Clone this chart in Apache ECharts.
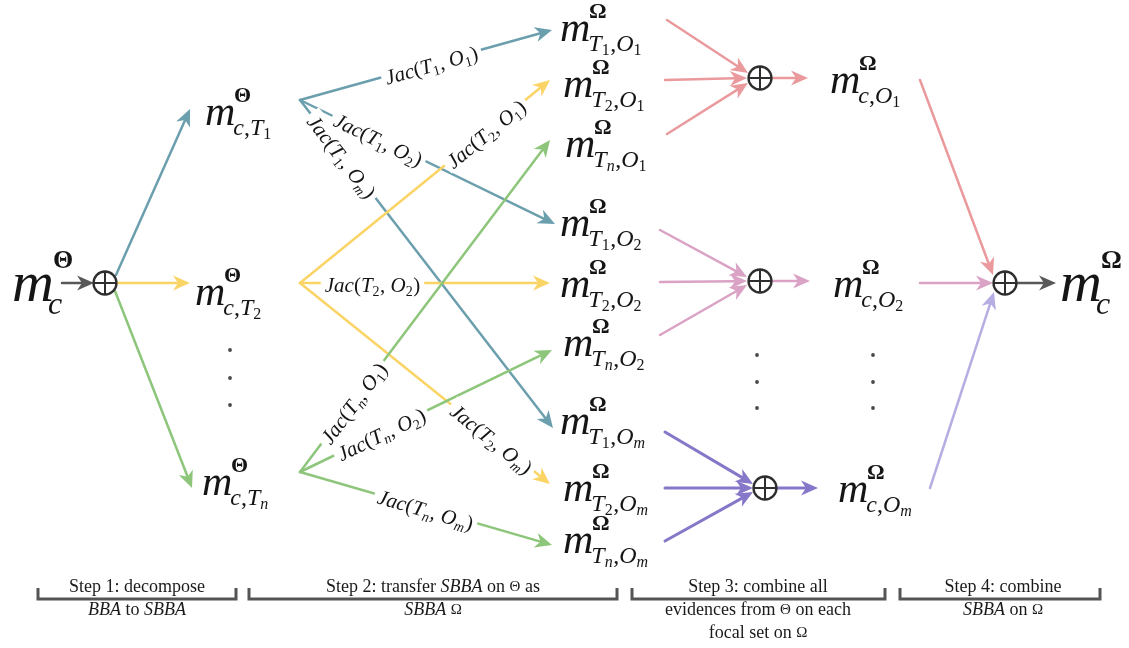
<!DOCTYPE html>
<html><head><meta charset="utf-8">
<script src="https://cdn.jsdelivr.net/npm/echarts@6/dist/echarts.min.js"></script>
<style>html,body{margin:0;padding:0;background:#fff}#c{width:1129px;height:648px}</style>
</head><body><div id="c"></div>
<script>
// ---------------- data ----------------
const groupColors = {dark:'#585858', blue:'#6b9fae', yellow:'#fbd466', green:'#8dc67b',
  pink:'#ea9a9d', mauve:'#daa2c4', purple:'#8677c9', lavender:'#b6ade3'};

// plain arrows: x1, y1, x2, y2, colour group
const plainEdges = [
  [62,283,94,283,'dark'],
  [116,275,190,109,'blue'],
  [117,283,190,283,'yellow'],
  [115,291,192,488,'green'],
  [667,20,748,73,'pink'],[665,80,747,78,'pink'],[667,134,748,83,'pink'],[772,78,808,78,'pink'],
  [660,230,747,277,'mauve'],[660,282,747,281,'mauve'],[660,335,747,285,'mauve'],[772,281,810,281,'mauve'],
  [665,432,753,484,'purple'],[665,488,753,488,'purple'],[665,541,753,492,'purple'],[777,488,818,488,'purple'],
  [920,80,993,275,'pink'],[920,283,993,283,'mauve'],[930,488,994,292,'lavender'],[1017,283,1056,283,'dark']
];

// transfer arrows with Jaccard labels
const jacEdges = [
  [300,100,552,30,'blue'],
  [300,100,555,224,'blue'],
  [300,100,553,428,'blue'],
  [300,283,550,80,'yellow'],
  [300,283,550,283,'yellow'],
  [300,283,550,484,'yellow'],
  [300,472,550,140,'green'],
  [300,472,552,350,'green'],
  [300,472,552,545,'green']
];
const jacLabels = ['Jac(T_1, O_1)','Jac(T_1, O_2)','Jac(T_1, O_m)','Jac(T_2, O_1)','Jac(T_2, O_2)',
  'Jac(T_2, O_m)','Jac(T_n, O_1)','Jac(T_n, O_2)','Jac(T_n, O_m)'];
const jacLabelAt = [0.52,0.31,0.17,0.74,0.29,0.77,0.21,0.32,0.5];

// mass-function nodes
const nodeSup = ['Θ','Θ','Θ','Θ','Ω','Ω','Ω','Ω','Ω','Ω','Ω','Ω','Ω','Ω','Ω','Ω','Ω'];
const nodeSub = ['c','c,T_1','c,T_2','c,T_n','T_1,O_1','T_2,O_1','T_n,O_1','T_1,O_2','T_2,O_2','T_n,O_2',
  'T_1,O_m','T_2,O_m','T_n,O_m','c,O_1','c,O_2','c,O_m','c'];
const nodeBig = [1,0,0,0,0,0,0,0,0,0,0,0,0,0,0,0,1];
const nodeX = [12,205,195,202,560,563,565,560,560,563,560,563,563,830,833,838,1060];
const nodeY = [283,112,292,482,28,84,144,223,284,343,421,488,540,80,284,489,283];

// combination operators
const oplusPts = [[105,283],[760,78],[760,281],[765,488],[1005,283]];
// ellipsis dots
const dotPts = [[230,350],[230,378],[230,405],[757,355],[757,382],[757,408],[873,355],[873,382],[873,408]];
// step brackets: x start, x end
const bracketX = [[38,236],[249,617],[632,885],[900,1100]];
const bracketY = 599;
const stepTexts = [
  ['Step 1: decompose','{i|BBA} to {i|SBBA}'],
  ['Step 2: transfer {i|SBBA} on {g|Θ} as','{i|SBBA} {g|Ω}'],
  ['Step 3: combine all','evidences from {g|Θ} on each','focal set on {g|Ω}'],
  ['Step 4: combine','{i|SBBA} on {g|Ω}']
];
const stepX = [137,433,758,1003];

// ---------------- helpers ----------------
const SERIF = '"Liberation Serif","Times New Roman",serif';
const ctx = document.createElement('canvas').getContext('2d');
function fnt(size, italic, bold){ return (italic?'italic ':'') + (bold?'bold ':'') + size + 'px ' + SERIF; }
function measure(t, f){ ctx.font = f; return ctx.measureText(t).width; }
const K = 0.18; // drawn middle above baseline (empirical)
function txt(t, x, baseline, size, italic, bold, color){
  return {type:'text', x:x, y:baseline - K*size,
    style:{text:t, font:fnt(size,italic,bold), fill:color||'#151515', align:'left', verticalAlign:'middle',
      textAlign:'left', textVerticalAlign:'middle'}};
}
function tokenize(str){
  const toks = [];
  for (let i=0;i<str.length;i++){
    let c = str[i], sub = false;
    if (c === '_'){ sub = true; i++; c = str[i]; }
    const it = /[A-Za-z]/.test(c);
    const last = toks[toks.length-1];
    if (last && last.sub === sub && last.it === it && !sub) last.t += c;
    else toks.push({t:c, sub:sub, it:it});
  }
  return toks;
}
function layoutMath(str, x0, baseline, size, subScale, subDrop, color){
  const out = []; let x = x0;
  tokenize(str).forEach(tk => {
    const s = tk.sub ? Math.round(size*subScale) : size;
    const b = tk.sub ? baseline + subDrop*size : baseline;
    out.push(txt(tk.t, x, b, s, tk.it, false, color));
    x += measure(tk.t, fnt(s, tk.it, false)) + (tk.sub ? 0.5 : 0);
  });
  return {pieces:out, width:x - x0};
}
function arrowGroup(p1, p2, color, lw){
  const dx=p2[0]-p1[0], dy=p2[1]-p1[1], len=Math.hypot(dx,dy);
  const ux=dx/len, uy=dy/len, nx=-uy, ny=ux;
  const L=17, W=7.5, N=5;
  const bx=p2[0]-ux*(L-N), by=p2[1]-uy*(L-N);
  return {type:'group', children:[
    {type:'line', shape:{x1:p1[0],y1:p1[1],x2:bx,y2:by}, style:{stroke:color, lineWidth:lw, lineCap:'round'}},
    {type:'polygon', shape:{points:[[p2[0],p2[1]],[p2[0]-ux*L+nx*W,p2[1]-uy*L+ny*W],[bx,by],[p2[0]-ux*L-nx*W,p2[1]-uy*L-ny*W]]},
      style:{fill:color}}
  ]};
}

const allEdges = plainEdges.concat(jacEdges);

function jacLabel(api, bgOnly){
  const i = api.value(4);
  const p1 = api.coord([api.value(0),api.value(1)]), p2 = api.coord([api.value(2),api.value(3)]);
  const t = jacLabelAt[i];
  const cx = p1[0] + (p2[0]-p1[0])*t, cy = p1[1] + (p2[1]-p1[1])*t;
  const ang = Math.atan2(p2[1]-p1[1], p2[0]-p1[0]);
  const size = 21;
  const m = layoutMath(jacLabels[i], 0, 0, size, 0.66, 0.22);
  const w = m.width;
  if (bgOnly){
    return {type:'group', x:cx, y:cy, rotation:-ang, children:[
      {type:'rect', shape:{x:-w/2-4, y:-size*0.5, width:w+8, height:size*1.0}, style:{fill:'#fff'}}
    ]};
  }
  const lay = layoutMath(jacLabels[i], -w/2, 0.33*size, size, 0.66, 0.22);
  return {type:'group', x:cx, y:cy, rotation:-ang, children: lay.pieces};
}

const option = {
  animation:false,
  backgroundColor:'#ffffff',
  grid:{left:0,right:0,top:0,bottom:0},
  xAxis:{type:'value',min:0,max:1129,show:false},
  yAxis:{type:'value',min:0,max:648,inverse:true,show:false},
  series:[
    { // arrows
      type:'custom', clip:false, z:2,
      data: allEdges.map((e,i)=>[e[0],e[1],e[2],e[3],i]),
      encode:{x:[0,2],y:[1,3]},
      renderItem(params, api){
        const e = allEdges[api.value(4)];
        const p1 = api.coord([api.value(0),api.value(1)]), p2 = api.coord([api.value(2),api.value(3)]);
        return arrowGroup(p1, p2, groupColors[e[4]], e[4]==='purple'?3:2.5);
      }
    },
    { // label backgrounds
      type:'custom', clip:false, z:3,
      data: jacEdges.map((e,i)=>[e[0],e[1],e[2],e[3],i]),
      encode:{x:[0,2],y:[1,3]},
      renderItem(params, api){ return jacLabel(api, true); }
    },
    { // label texts
      type:'custom', clip:false, z:4,
      data: jacEdges.map((e,i)=>[e[0],e[1],e[2],e[3],i]),
      encode:{x:[0,2],y:[1,3]},
      renderItem(params, api){ return jacLabel(api, false); }
    },
    { // oplus
      type:'custom', clip:false, z:5,
      data: oplusPts,
      encode:{x:0,y:1},
      renderItem(params, api){
        const p = api.coord([api.value(0),api.value(1)]); const r = 11.5;
        return {type:'group', x:p[0], y:p[1], children:[
          {type:'circle', shape:{cx:0,cy:0,r:r}, style:{fill:'#fff', stroke:'#2e2e2e', lineWidth:2.3}},
          {type:'line', shape:{x1:-r,y1:0,x2:r,y2:0}, style:{stroke:'#2e2e2e', lineWidth:2}},
          {type:'line', shape:{x1:0,y1:-r,x2:0,y2:r}, style:{stroke:'#2e2e2e', lineWidth:2}}
        ]};
      }
    },
    { // nodes
      type:'custom', clip:false, z:6,
      data: nodeX.map((x,i)=>[x,nodeY[i],i]),
      encode:{x:0,y:1},
      renderItem(params, api){
        const i = api.value(2);
        const p = api.coord([api.value(0),api.value(1)]);
        const big = nodeBig[i];
        const F = big?58:42, S = big?26:22, B = big?32:24;
        const bm = 0.23*F;
        const mW = measure('m', fnt(F,true,false));
        const ch = [txt('m',0,bm,F,true,false)];
        ch.push(txt(nodeSup[i], big ? mW*0.98 : mW*0.96, bm-0.52*F, S, false, true));
        const sub = layoutMath(nodeSub[i], big ? mW*0.86 : mW-2, bm+0.26*F, B, 0.66, 0.2);
        return {type:'group', x:p[0], y:p[1], children: ch.concat(sub.pieces)};
      }
    },
    { // dots
      type:'scatter', z:6, symbol:'circle', symbolSize:3.8,
      itemStyle:{color:'#1a1a1a'},
      data: dotPts
    },
    { // brackets
      type:'custom', clip:false, z:6,
      data: bracketX.map(b=>[b[0],bracketY,b[1]]),
      encode:{x:[0,2],y:1},
      renderItem(params, api){
        const a = api.coord([api.value(0),api.value(1)]), b = api.coord([api.value(2),api.value(1)]);
        return {type:'polyline', shape:{points:[[a[0],a[1]-11],[a[0],a[1]],[b[0],b[1]],[b[0],b[1]-11]]},
          style:{stroke:'#555', lineWidth:3, fill:null}};
      }
    },
    { // step texts
      type:'custom', clip:false, z:6,
      data: stepX.map((x,i)=>[x,576,i]),
      encode:{x:0,y:1},
      renderItem(params, api){
        const i = api.value(2); const p = api.coord([api.value(0),api.value(1)]);
        return {type:'text', x:p[0], y:p[1], style:{
          text: stepTexts[i].join('\n'), font: fnt(18,false,false), fill:'#1a1a1a',
          align:'center', verticalAlign:'top', textAlign:'center', textVerticalAlign:'top', lineHeight:23,
          rich:{ i:{fontStyle:'italic', fontFamily:SERIF, fontSize:18, lineHeight:23, fill:'#1a1a1a'},
                 g:{fontFamily:SERIF, fontSize:15, lineHeight:23, fill:'#1a1a1a'} }
        }};
      }
    }
  ]
};

const chart = echarts.init(document.getElementById('c'));
chart.setOption(option);
</script></body></html>
